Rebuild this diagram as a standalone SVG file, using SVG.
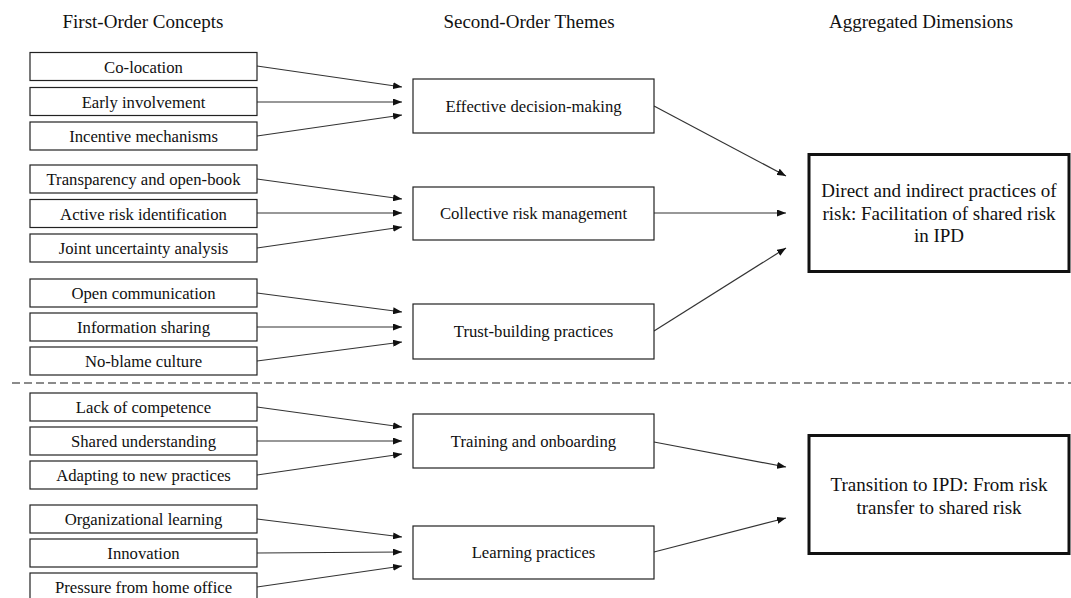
<svg xmlns="http://www.w3.org/2000/svg" width="1071" height="598" viewBox="0 0 1071 598" font-family="'Liberation Serif', 'DejaVu Serif', serif">
<style>
  text { font-family: 'Liberation Serif', 'DejaVu Serif', serif; fill: #111; text-anchor: middle; }
  .hdr { font-size: 19px; }
  .n1 { font-size: 16.7px; }
  .n3 { font-size: 19px; }
  .b1 { fill: #fff; stroke: #222; stroke-width: 1.2; }
  .b3 { fill: #fff; stroke: #111; stroke-width: 3; }
  .c { stroke: #333; stroke-width: 1.2; fill: none; marker-end: url(#ah); }
</style>
<defs>
  <marker id="ah" markerUnits="userSpaceOnUse" markerWidth="9" markerHeight="7" refX="9" refY="3.5" orient="auto">
    <path d="M0,0 L9,3.5 L0,7 z" fill="#111"/>
  </marker>
</defs>
<rect width="1071" height="598" fill="#fff"/>

<g id="headers">
  <text class="hdr" x="143" y="28">First-Order Concepts</text>
  <text class="hdr" x="529" y="28">Second-Order Themes</text>
  <text class="hdr" x="921" y="28">Aggregated Dimensions</text>
</g>

<line x1="12" y1="383" x2="1071" y2="383" stroke="#666" stroke-width="1.5" stroke-dasharray="8,4"/>

<g id="connectors">
  <line class="c" x1="257" y1="66" x2="402" y2="87"/>
  <line class="c" x1="257" y1="102" x2="402" y2="102"/>
  <line class="c" x1="257" y1="136" x2="402" y2="115"/>
  <line class="c" x1="257" y1="179" x2="402" y2="199"/>
  <line class="c" x1="257" y1="213" x2="402" y2="213"/>
  <line class="c" x1="257" y1="248" x2="402" y2="227"/>
  <line class="c" x1="257" y1="293" x2="402" y2="312"/>
  <line class="c" x1="257" y1="327" x2="402" y2="327"/>
  <line class="c" x1="257" y1="361" x2="402" y2="342"/>
  <line class="c" x1="257" y1="407" x2="402" y2="427"/>
  <line class="c" x1="257" y1="441" x2="402" y2="441"/>
  <line class="c" x1="257" y1="475" x2="402" y2="454"/>
  <line class="c" x1="257" y1="519" x2="402" y2="537"/>
  <line class="c" x1="257" y1="553" x2="402" y2="552"/>
  <line class="c" x1="257" y1="587" x2="402" y2="566"/>
  <line class="c" x1="654" y1="106" x2="786" y2="176"/>
  <line class="c" x1="654" y1="213" x2="786" y2="213"/>
  <line class="c" x1="654" y1="331" x2="786" y2="248"/>
  <line class="c" x1="654" y1="442" x2="786" y2="467"/>
  <line class="c" x1="654" y1="552" x2="786" y2="518"/>
</g>

<g id="n-colocation"><rect class="b1" x="30" y="52.5" width="227" height="28"/><text class="n1" x="143.5" y="72.5">Co-location</text></g>
<g id="n-early"><rect class="b1" x="30" y="87.5" width="227" height="28"/><text class="n1" x="143.5" y="107.5">Early involvement</text></g>
<g id="n-incentive"><rect class="b1" x="30" y="122" width="227" height="28"/><text class="n1" x="143.5" y="142">Incentive mechanisms</text></g>

<g id="n-transparency"><rect class="b1" x="30" y="165" width="227" height="28"/><text class="n1" x="143.5" y="185">Transparency and open-book</text></g>
<g id="n-active"><rect class="b1" x="30" y="199.5" width="227" height="28"/><text class="n1" x="143.5" y="219.5">Active risk identification</text></g>
<g id="n-joint"><rect class="b1" x="30" y="234" width="227" height="28"/><text class="n1" x="143.5" y="254">Joint uncertainty analysis</text></g>

<g id="n-open"><rect class="b1" x="30" y="279" width="227" height="28"/><text class="n1" x="143.5" y="299">Open communication</text></g>
<g id="n-info"><rect class="b1" x="30" y="313" width="227" height="28"/><text class="n1" x="143.5" y="333">Information sharing</text></g>
<g id="n-noblame"><rect class="b1" x="30" y="347" width="227" height="28"/><text class="n1" x="143.5" y="367">No-blame culture</text></g>

<g id="n-lack"><rect class="b1" x="30" y="393" width="227" height="28"/><text class="n1" x="143.5" y="413">Lack of competence</text></g>
<g id="n-shared"><rect class="b1" x="30" y="427" width="227" height="28"/><text class="n1" x="143.5" y="447">Shared understanding</text></g>
<g id="n-adapting"><rect class="b1" x="30" y="461" width="227" height="28"/><text class="n1" x="143.5" y="481">Adapting to new practices</text></g>

<g id="n-org"><rect class="b1" x="30" y="505" width="227" height="28"/><text class="n1" x="143.5" y="525">Organizational learning</text></g>
<g id="n-innovation"><rect class="b1" x="30" y="539" width="227" height="28"/><text class="n1" x="143.5" y="559">Innovation</text></g>
<g id="n-pressure"><rect class="b1" x="30" y="573" width="227" height="28"/><text class="n1" x="143.5" y="593">Pressure from home office</text></g>

<g id="t-effective"><rect class="b1" x="413" y="79" width="241" height="54"/><text class="n1" x="533.5" y="112">Effective decision-making</text></g>
<g id="t-collective"><rect class="b1" x="413" y="187" width="241" height="53"/><text class="n1" x="533.5" y="219">Collective risk management</text></g>
<g id="t-trust"><rect class="b1" x="413" y="304" width="241" height="55"/><text class="n1" x="533.5" y="337">Trust-building practices</text></g>
<g id="t-training"><rect class="b1" x="413" y="414" width="241" height="54"/><text class="n1" x="533.5" y="447">Training and onboarding</text></g>
<g id="t-learning"><rect class="b1" x="413" y="526" width="241" height="53"/><text class="n1" x="533.5" y="558">Learning practices</text></g>

<g id="d-direct"><rect class="b3" x="809" y="154.5" width="260" height="117"/>
  <text class="n3" x="939" y="197">Direct and indirect practices of</text>
  <text class="n3" x="939" y="219.5">risk: Facilitation of shared risk</text>
  <text class="n3" x="939" y="242">in IPD</text>
</g>
<g id="d-transition"><rect class="b3" x="809" y="435.5" width="260" height="118"/>
  <text class="n3" x="939" y="491">Transition to IPD: From risk</text>
  <text class="n3" x="939" y="513.5">transfer to shared risk</text>
</g>
</svg>
